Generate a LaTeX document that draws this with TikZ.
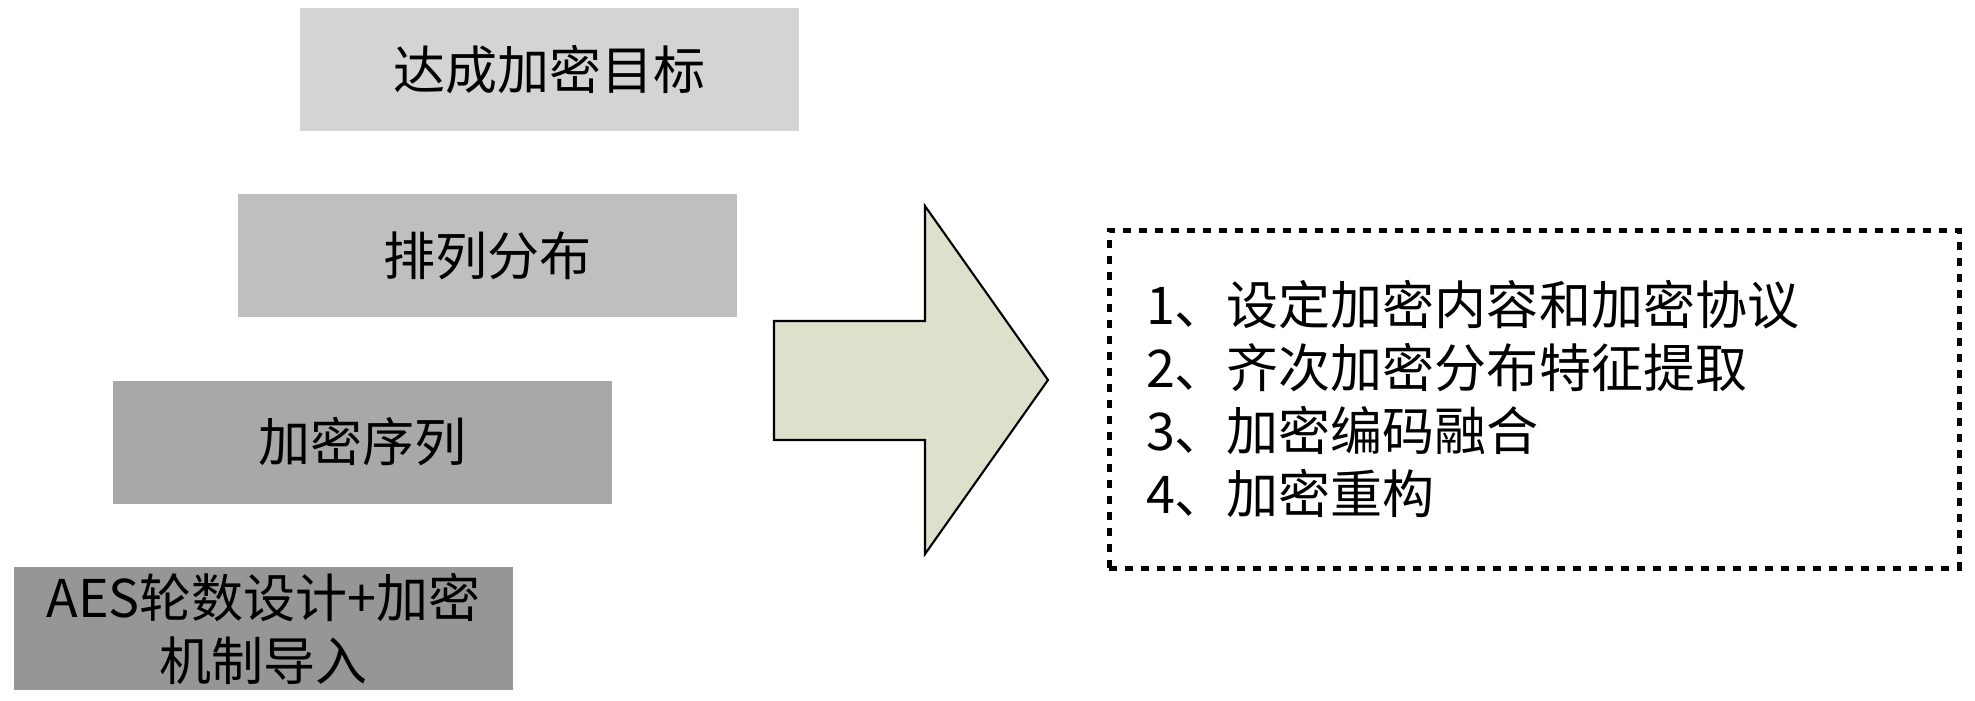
\documentclass[tikz,border=0pt]{standalone}
\usepackage{fontspec}
\setmainfont{Noto Sans CJK SC}
\usepackage{xcolor}
\usepackage{tikz}
\usetikzlibrary{positioning}
\definecolor{goalgray}{gray}{0.83}
\definecolor{distgray}{gray}{0.75}
\definecolor{seqgray}{gray}{0.66}
\definecolor{basegray}{gray}{0.59}
\definecolor{arrowolive}{HTML}{DDE0CB}

\begin{document}
\begin{tikzpicture}[
    levelbox/.style={rectangle,minimum width=4.99cm,minimum height=1.23cm,
      inner sep=0pt,align=center},
    bigarrow/.style={draw=black,line width=0.6pt,fill=arrowolive},
    stepsbox/.style={draw=black,line width=0.05cm,dash pattern=on 0.08cm off 0.08cm,
      minimum width=8.50cm,minimum height=3.38cm,text width=7.76cm,
      inner xsep=0.37cm,inner ysep=0pt,align=left}]
    \useasboundingbox (0,0) rectangle (19.75,-7.00);
    \fontsize{14.8pt}{17.9pt}\selectfont

    % staircase of levels, top one first
    \node[levelbox,fill=goalgray] (goal) at (5.495,-0.695) {达成加密目标};
    \node[levelbox,fill=distgray] (dist) at (4.875,-2.555) {排列分布};
    \node[levelbox,fill=seqgray] (seq) at (3.625,-4.42) {加密序列};
    \node[levelbox,fill=basegray] (base) at (2.635,-6.285)
      {AES轮数设计+加密\\机制导入};

    \draw[bigarrow]
      (7.74,-3.21) -- (9.25,-3.21) -- (9.25,-2.06) -- (10.48,-3.80)
      -- (9.25,-5.54) -- (9.25,-4.40) -- (7.74,-4.40) -- cycle;

    \node[stepsbox] (steps) at (15.34,-3.99)
      {1、设定加密内容和加密协议\\
       2、齐次加密分布特征提取\\
       3、加密编码融合\\
       4、加密重构};
\end{tikzpicture}
\end{document}
